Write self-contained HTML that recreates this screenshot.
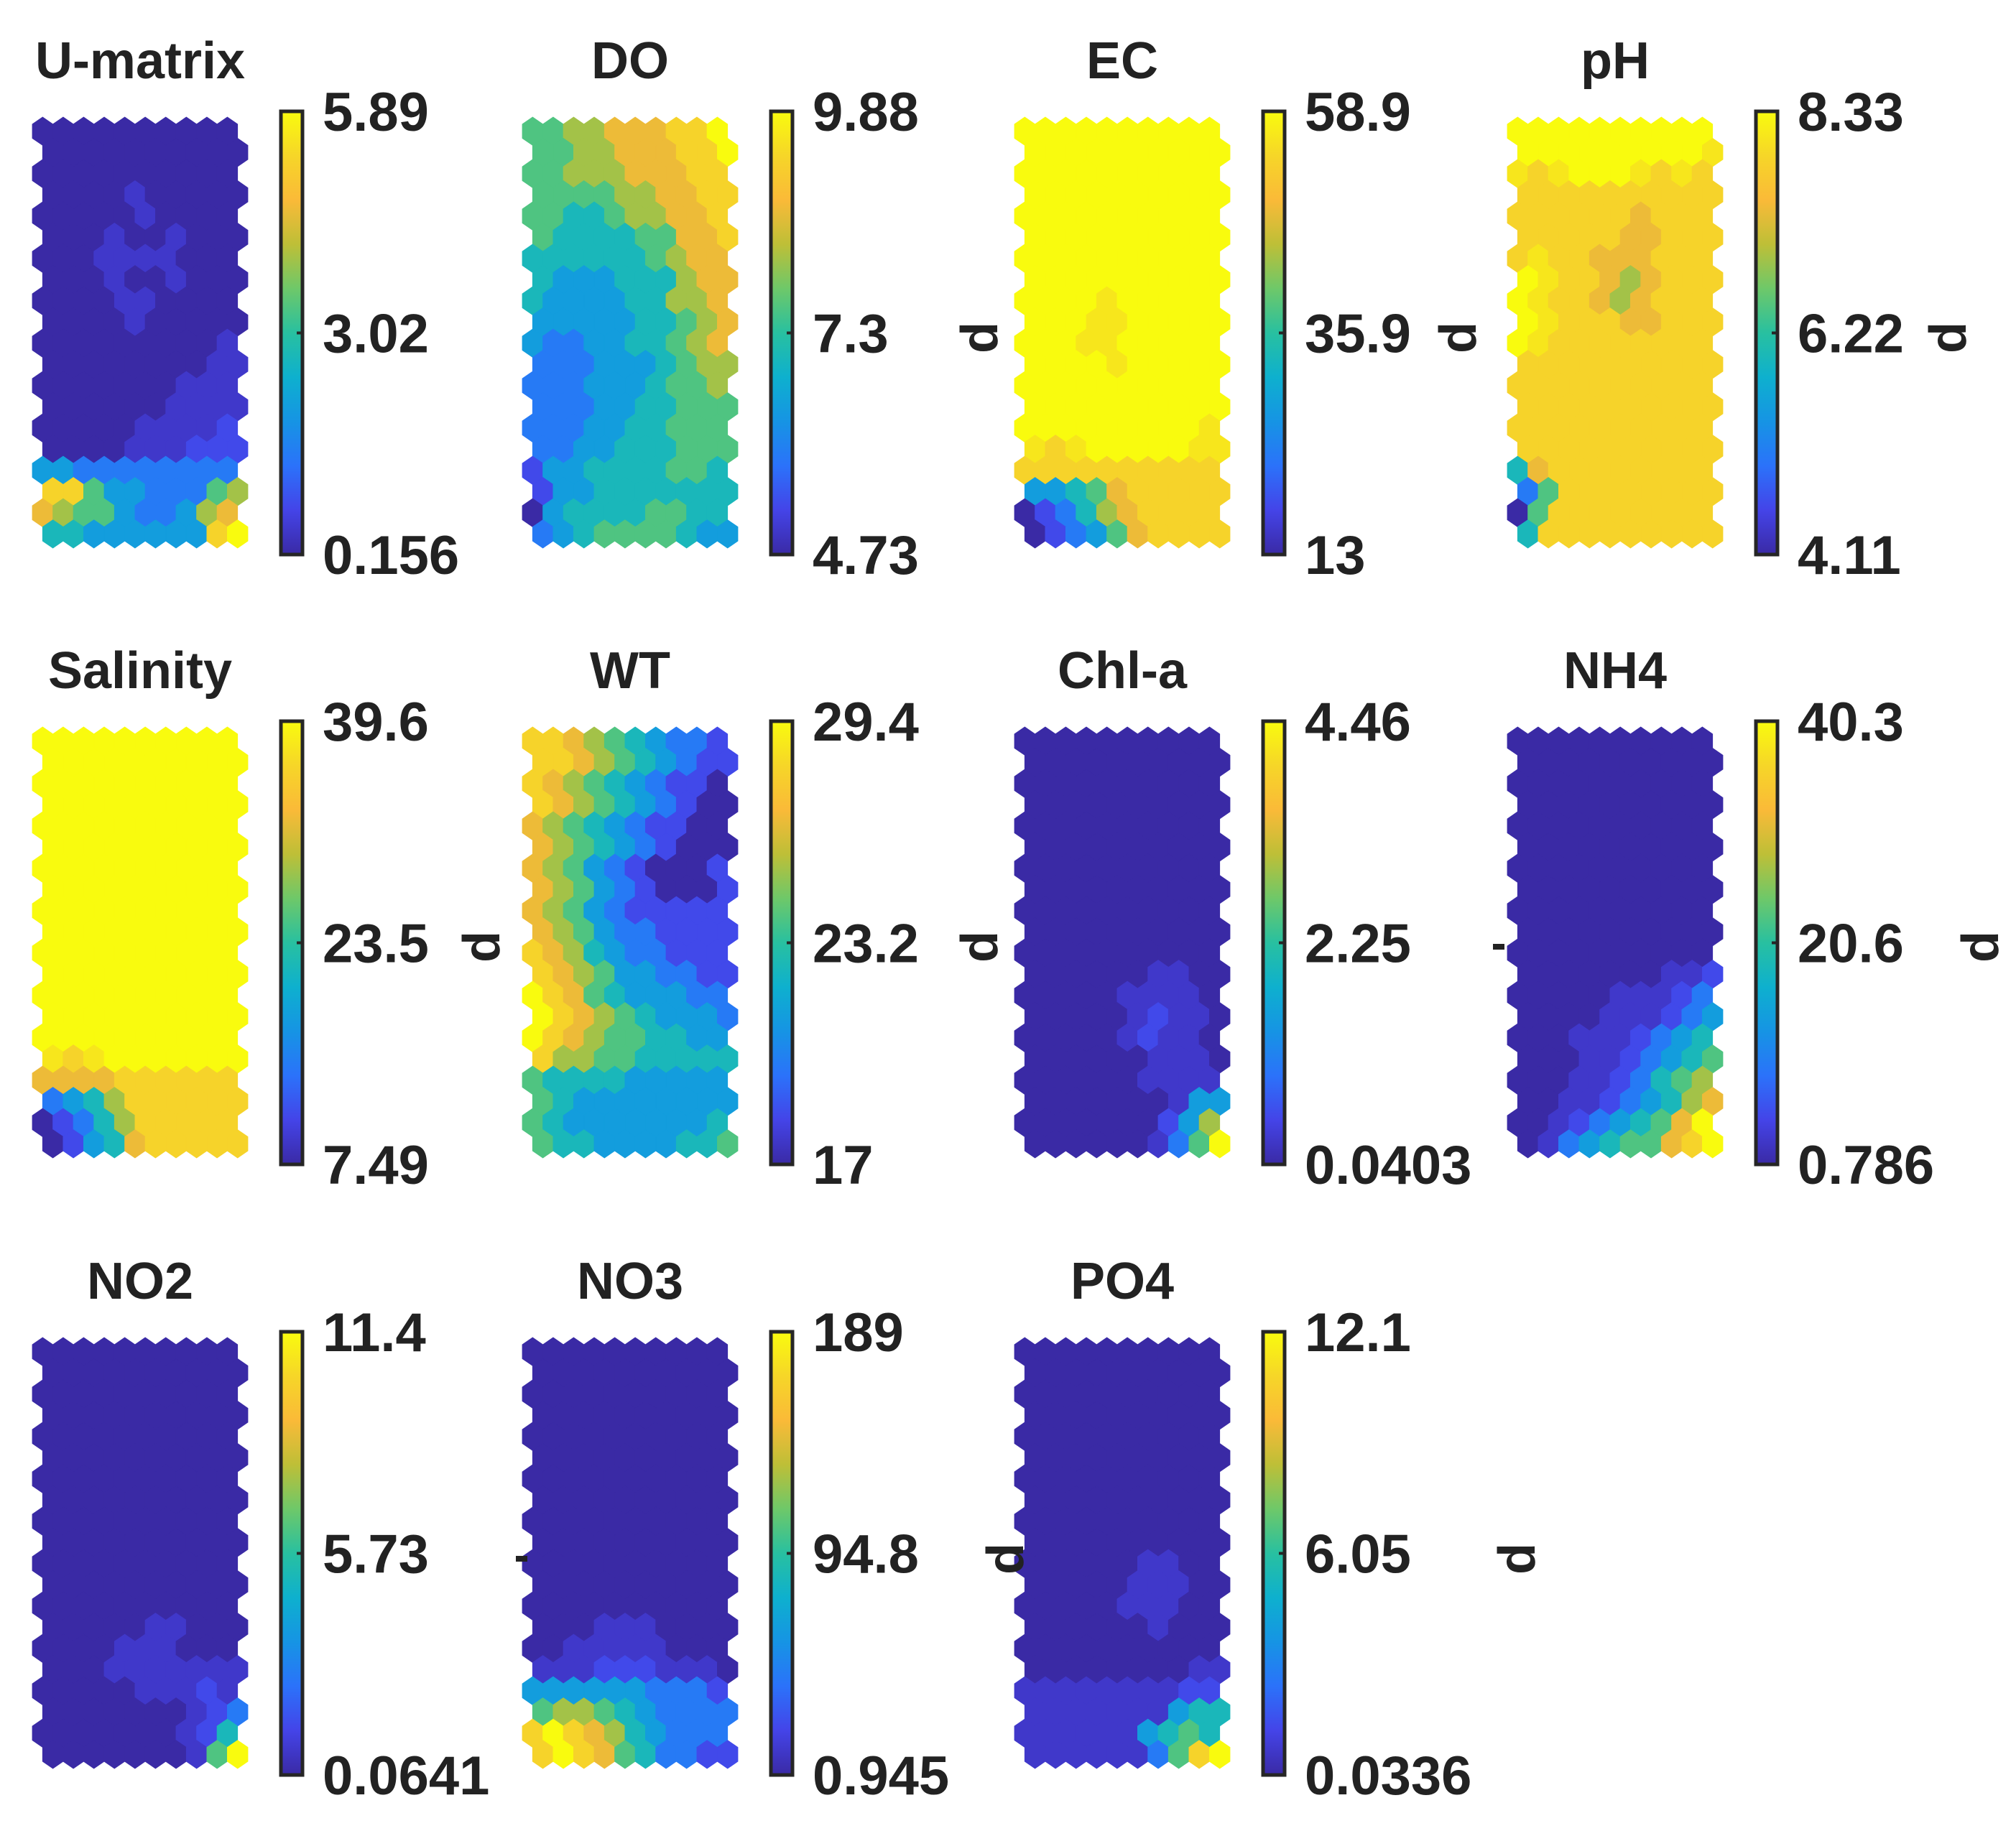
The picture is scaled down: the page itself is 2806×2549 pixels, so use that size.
<!DOCTYPE html>
<html><head><meta charset="utf-8">
<style>
html,body{margin:0;padding:0;background:#fff;}
svg{display:block;font-family:"Liberation Sans",Arial,sans-serif;font-weight:bold;}
</style></head>
<body>
<svg id="fig" width="2806" height="2549" viewBox="0 0 2806 2549" xmlns="http://www.w3.org/2000/svg">
<rect x="0" y="0" width="2806" height="2549" fill="#fff"/>
</svg>
<script>
// ---- data: names, colorbar ranges, tick labels ----
const titles = ["U-matrix","DO","EC","pH","Salinity","WT","Chl-a","NH4","NO2","NO3","PO4"];
const mins = [0.156,4.73,13,4.11,7.49,17,0.0403,0.786,0.0641,0.945,0.0336];
const maxs = [5.89,9.88,58.9,8.33,39.6,29.4,4.46,40.3,11.4,189,12.1];
const tickTop = ["5.89","9.88","58.9","8.33","39.6","29.4","4.46","40.3","11.4","189","12.1"];
const tickMid = ["3.02","7.3","35.9","6.22","23.5","23.2","2.25","20.6","5.73","94.8","6.05"];
const tickBot = ["0.156","4.73","13","4.11","7.49","17","0.0403","0.786","0.0641","0.945","0.0336"];
// cell levels on the scale "0a1b2c3d4e5f6g7h8i9" (index/18 = fraction of colour range), 20 rows x 10 cols
const scaleChars = "0a1b2c3d4e5f6g7h8i9";
const lvUmat = ["0000000000","0000000000","0000000000","0000a00000","00000a0000","000a00a000","000aaaa000","000a00a000","0000aa0000","0000a00000","000000000a","00000000aa","0000000aaa","000000aaaa","00000aaaa1","0000aaa111","3322222222","8853322256","7655322367","4433333389"];
const lvDO = ["5566777889","5566777889","5566677788","5555667788","5544566778","5444455778","4444445677","4333444677","4333344667","3333344567","3223344567","2223334566","2223334556","2223344555","2223344555","2233444555","1334444554","1334444444","0344445544","2345555433"];
const lvEC = ["9999999999","9999999999","9999999999","9999999999","9999999999","9999999999","9999999999","9999999999","9999i99999","999ii99999","999ii99999","9999i99999","9999999999","9999999999","999999999i","i8i99999ii","8888888888","3345788888","0124678888","0123578888"];
const lvPH = ["9999999999","999999999i","i8i999i8i8","8888888888","8888887888","8888877888","8i88777888","9i88767888","9i88767888","9i88877888","9i88888888","8888888888","8888888888","8888888888","8888888888","8888888888","4788888888","2588888888","0588888888","4888888888"];
const lvSal = ["9999999999","9999999999","9999999999","9999999999","9999999999","9999999999","9999999999","9999999999","9999999999","9999999999","9999999999","9999999999","9999999999","9999999999","9999999999","i8i9999999","7777888888","2346888888","0124688888","0134788888"];
const lvWT = ["8876543221","8876543211","8765432110","8765432100","7654321100","7654321000","7653210001","7653210001","7653211111","7653221111","8764322111","8765332211","9875433322","9876543332","9876554433","8665544444","5444433333","5433333333","5433333334","5443333445"];
const lvChl = ["0000000000","0000000000","0000000000","0000000000","0000000000","0000000000","0000000000","0000000000","0000000000","0000000000","0000000000","000000aa00","00000aaaa0","00000a1aa0","00000a1aa0","000000aaa0","000000aaaa","0000000a33","0000000136","000000a259"];
const lvNH4 = ["0000000000","0000000000","0000000000","0000000000","0000000000","0000000000","0000000000","0000000000","0000000000","0000000000","0000000000","0000000aa1","00000aaa12","0000aaa123","000aaa1234","000aa12345","000aa12456","00aa123467","00a1234579","0a23455789"];
const lvNO2 = ["0000000000","0000000000","0000000000","0000000000","0000000000","0000000000","0000000000","0000000000","0000000000","0000000000","0000000000","0000000000","0000000000","00000aa000","0000aaa000","000aaaaaaa","00000aaa1a","0000000a12","0000000a14","0000000a59"];
const lvNO3 = ["0000000000","0000000000","0000000000","0000000000","0000000000","0000000000","0000000000","0000000000","0000000000","0000000000","0000000000","0000000000","0000000000","000aaa0000","00aaaaa000","aaa111aaa0","3333332221","5665432222","8987643222","8987542211"];
const lvPO4 = ["0000000000","0000000000","0000000000","0000000000","0000000000","0000000000","0000000000","0000000000","0000000000","0000000000","000000aa00","00000aaa00","00000aaa00","000000a000","0000000000","00000000aa","aaaaaaaa11","aaaaaaa344","aaaaaa3454","aaaaaa2589"];
const levels = [lvUmat,lvDO,lvEC,lvPH,lvSal,lvWT,lvChl,lvNH4,lvNO2,lvNO3,lvPO4];

// ---- layout ----
const NS = "http://www.w3.org/2000/svg";
const svg = document.getElementById('fig');
const colLeft = [45, 727, 1412, 2098];
const rowTop = [163, 1012, 1862];
const PW = 300, PH = 600;
const parula = [[58,42,165],[68,68,232],[43,114,250],[22,148,228],[14,176,206],[40,192,160],[110,200,105],[190,191,55],[250,186,56],[246,214,40],[249,251,14]];
function colorAt(t){
  t = Math.max(0, Math.min(1, t));
  const p = t*(parula.length-1), i = Math.min(Math.floor(p), parula.length-2), f = p-i;
  const a = parula[i], b = parula[i+1];
  return 'rgb('+a.map((v,k)=>Math.round(v+(b[k]-v)*f)).join(',')+')';
}
function mk(tag, attrs, parent){
  const e = document.createElementNS(NS, tag);
  for (const k in attrs) e.setAttribute(k, attrs[k]);
  (parent||svg).appendChild(e);
  return e;
}
const defs = mk('defs', {});
const grad = mk('linearGradient', {id:'parula', x1:'0', y1:'1', x2:'0', y2:'0'}, defs);
parula.forEach((c,i)=>{ mk('stop', {offset:(i/(parula.length-1)), 'stop-color':'rgb('+c.join(',')+')'}, grad); });

titles.forEach((title, p) => {
  const c = p % 4, r = Math.floor(p / 4);
  const L = colLeft[c], T = rowTop[r];
  const g = mk('g', {});
  
  
  const t = mk('text', {x: L + PW/2, y: T - 54, 'font-size': 72, 'text-anchor':'middle', fill:'#222'}, g);
  t.textContent = title;
  
  
  const rows = levels[p];
  const nR = rows.length, nC = rows[0].length;
  const w = PW / (nC + 0.5);
  const step = PH / (nR - 1 + 4/3);
  const h = step * 4/3;
  const lo = mins[p], hi = maxs[p];
  rows.forEach((row, ri) => {
    for (let ci = 0; ci < nC; ci++) {
      const val = lo + scaleChars.indexOf(row[ci]) / 18 * (hi - lo);
      const frac = (val - lo) / (hi - lo);
      const cx = L + w/2 + ci*w + (ri % 2 ? w/2 : 0);
      const cy = T + h/2 + ri*step;
      const pts = [[cx,cy-h/2],[cx+w/2,cy-h/4],[cx+w/2,cy+h/4],[cx,cy+h/2],[cx-w/2,cy+h/4],[cx-w/2,cy-h/4]].map(q=>q[0].toFixed(1)+','+q[1].toFixed(1)).join(' ');
      const col = colorAt(frac);
      const hex = mk('polygon', {points: pts, fill: col, stroke: col, 'stroke-width': 0.8}, g);
      
      
    }
  });
  const cbL = L + 346, cbT = T - 8, cbW = 30, cbH = 617;
  const cb = mk('rect', {x: cbL, y: cbT, width: cbW, height: cbH, fill:'url(#parula)', stroke:'#262626', 'stroke-width': 5}, g);
  
  
  mk('line', {x1: cbL+cbW-8, x2: cbL+cbW, y1: cbT+cbH/2, y2: cbT+cbH/2, stroke:'#262626', 'stroke-width':4}, g);
  const lx = cbL + cbW + 28;
  [[tickTop[p], cbT], [tickMid[p], cbT+cbH/2], [tickBot[p], cbT+cbH]].forEach(([s, y]) => {
    const tx = mk('text', {x: lx, y: y + 27, 'font-size': 76, fill:'#222'}, g);
    tx.textContent = s;
    
    
  });
});

const dLabels = [[1364,470],[2030,470],[2712,470],[671,1318],[1364,1318],[2757,1318],[1400,2170],[2112,2170]];
dLabels.forEach(([x,y]) => {
  const d = mk('text', {x: x, y: y, 'font-size': 72, 'text-anchor':'middle', fill:'#222', transform:'rotate(-90 '+x+' '+y+') translate(0 24)'});
  d.textContent = 'd';
  
  
});
const dashes = [[2078,1318],[718,2170]];
dashes.forEach(([x,y]) => {
  const m = mk('rect', {x: x, y: y-4, width: 16, height: 8, fill:'#222'});
  
  
});
</script>
</body></html>
